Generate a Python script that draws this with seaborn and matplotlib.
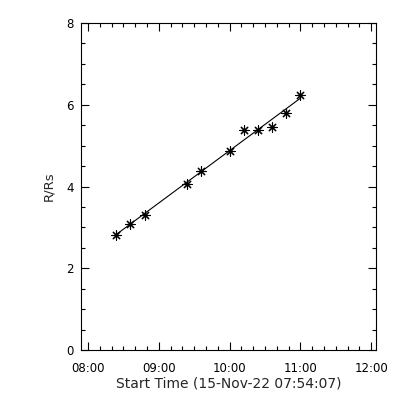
import numpy as np
import pandas as pd
import seaborn as sns
import matplotlib.pyplot as plt
from matplotlib.ticker import MultipleLocator, FuncFormatter

# height-time points (R/Rs vs time of day)
times = ['08:24', '08:36', '08:48', '09:24', '09:36', '10:00',
         '10:12', '10:24', '10:36', '10:48', '11:00']
r_rs = [2.82, 3.09, 3.31, 4.07, 4.38, 4.87, 5.39, 5.39, 5.46, 5.80, 6.25]

start_time = '07:54:07'
x_ticks = ['08:00', '09:00', '10:00', '11:00', '12:00']


def to_hours(s):
    parts = [float(p) for p in s.split(':')]
    return parts[0] + parts[1] / 60 + (parts[2] / 3600 if len(parts) > 2 else 0)


df = pd.DataFrame({'t': [to_hours(t) for t in times], 'r': r_rs})

# straight fit through the points, drawn over the data range
coef = np.polyfit(df['t'], df['r'], 1)
fit = pd.DataFrame({'t': df['t']})
fit['r'] = np.polyval(coef, fit['t'])

sns.set_style('ticks')
plt.rcParams['font.family'] = ['DejaVu Sans']
plt.rcParams['font.size'] = 8.5

fig = plt.figure(figsize=(4, 4), dpi=100)
ax = fig.add_axes([0.2025, 0.125, 0.7375, 0.8175])

sns.lineplot(x='t', y='r', data=fit, color='black', linewidth=0.8, ax=ax)
sns.scatterplot(x='t', y='r', data=df, marker=(8, 2, 0), s=45,
                color='black', linewidth=0.8, edgecolor='black', ax=ax)

t0 = to_hours(start_time)
ax.set_xlim(t0, t0 + 15000 / 3600)
ax.set_ylim(0, 8)

ax.set_xticks([to_hours(t) for t in x_ticks])
ax.set_xticklabels(x_ticks)
ax.xaxis.set_minor_locator(MultipleLocator(1 / 6))
ax.yaxis.set_major_locator(MultipleLocator(2))
ax.yaxis.set_minor_locator(MultipleLocator(0.5))
ax.yaxis.set_major_formatter(FuncFormatter(lambda v, p: f'{v:.0f}'))

ax.tick_params(which='both', direction='in', top=True, right=True,
               colors='black', width=0.8, labelsize=8.5)
ax.tick_params(axis='x', pad=9)
ax.tick_params(axis='y', pad=5)
ax.tick_params(which='major', length=6)
ax.tick_params(which='minor', length=3)
for sp in ax.spines.values():
    sp.set_visible(True)
    sp.set_color('black')
    sp.set_linewidth(0.8)

ax.set_xlabel(f'Start Time (15-Nov-22 {start_time})', fontsize=10, labelpad=1)
ax.set_ylabel('R/Rs', fontsize=9.5, labelpad=8)

fig.savefig('out.png', dpi=100, facecolor='white')
